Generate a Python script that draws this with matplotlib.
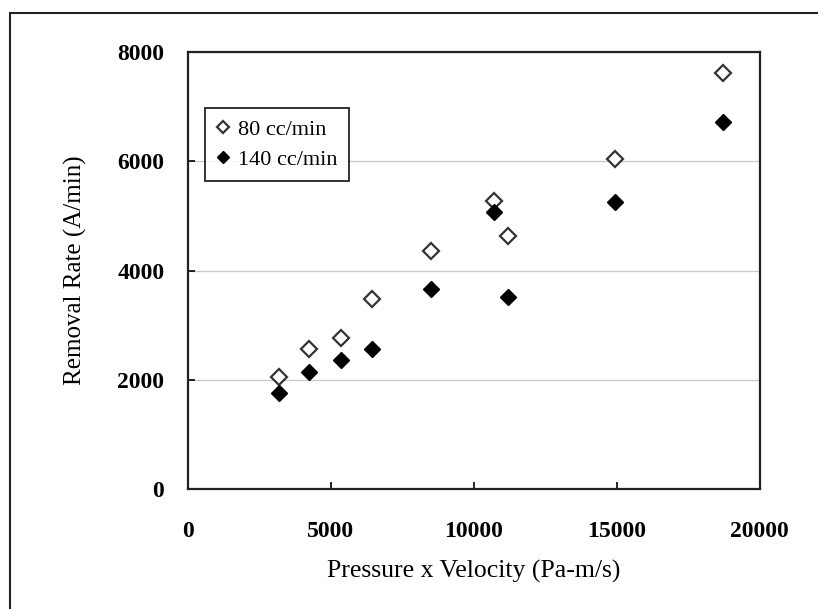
import matplotlib
matplotlib.use("Agg")
import matplotlib.pyplot as plt
from matplotlib.patches import Rectangle

# removal rate vs pressure x velocity, two slurry flow rates
pv_80 = [3200, 4250, 5350, 6430, 8500, 10700, 11200, 14930, 18700]
rr_80 = [2055, 2570, 2770, 3470, 4350, 5270, 4640, 6040, 7615]

pv_140 = [3200, 4250, 5350, 6430, 8500, 10700, 11200, 14930, 18700]
rr_140 = [1760, 2150, 2370, 2570, 3670, 5080, 3520, 5250, 6715]

labels = ["80 cc/min", "140 cc/min"]
xticks = [0, 5000, 10000, 15000, 20000]
yticks = [0, 2000, 4000, 6000, 8000]

plt.rcParams['font.family'] = ['Liberation Serif', 'DejaVu Serif']

fig = plt.figure(figsize=(8.18, 6.09), dpi=100)
ax = fig.add_axes([0.2298, 0.197, 0.699, 0.7175])

# outer frame of the original figure, only left and top edges visible
fig.patches.append(Rectangle((10 / 818, -0.1), 1.2, (1 - 13 / 609) + 0.1,
                             transform=fig.transFigure, fill=False,
                             edgecolor='#222222', linewidth=1.5))

ax.plot(pv_80, rr_80, linestyle='none', marker='D', markersize=8,
        markerfacecolor='white', markeredgecolor='#333333',
        markeredgewidth=1.6, label=labels[0], zorder=3)
ax.plot(pv_140, rr_140, linestyle='none', marker='D', markersize=8,
        markerfacecolor='black', markeredgecolor='black',
        label=labels[1], zorder=3)

ax.set_xlim(0, 20000)
ax.set_ylim(0, 8000)
ax.set_xticks(xticks)
ax.set_yticks(yticks)
ax.yaxis.grid(True, color='#c8c8c8', linewidth=0.9)
ax.set_axisbelow(True)

for s in ax.spines.values():
    s.set_linewidth(1.6)
    s.set_color('#222222')

ax.tick_params(direction='in', length=5, width=1.2, labelsize=17)
ax.tick_params(axis='x', pad=23)
ax.tick_params(axis='y', pad=17)
for t in ax.get_xticklabels() + ax.get_yticklabels():
    t.set_fontweight('bold')

ax.set_xlabel("Pressure x Velocity (Pa-m/s)", fontsize=18.5, labelpad=13)
ax.set_ylabel("Removal Rate (A/min)", fontsize=18, labelpad=22)

leg = ax.legend(loc='upper left', bbox_to_anchor=(0.03, 0.872),
                fontsize=16, frameon=True, fancybox=False,
                handlelength=0.6, handletextpad=0.4, borderpad=0.5,
                labelspacing=0.45, markerscale=0.75, borderaxespad=0)
leg.get_frame().set_edgecolor('black')
leg.get_frame().set_linewidth(1.4)

fig.savefig("out.png", dpi=100)
